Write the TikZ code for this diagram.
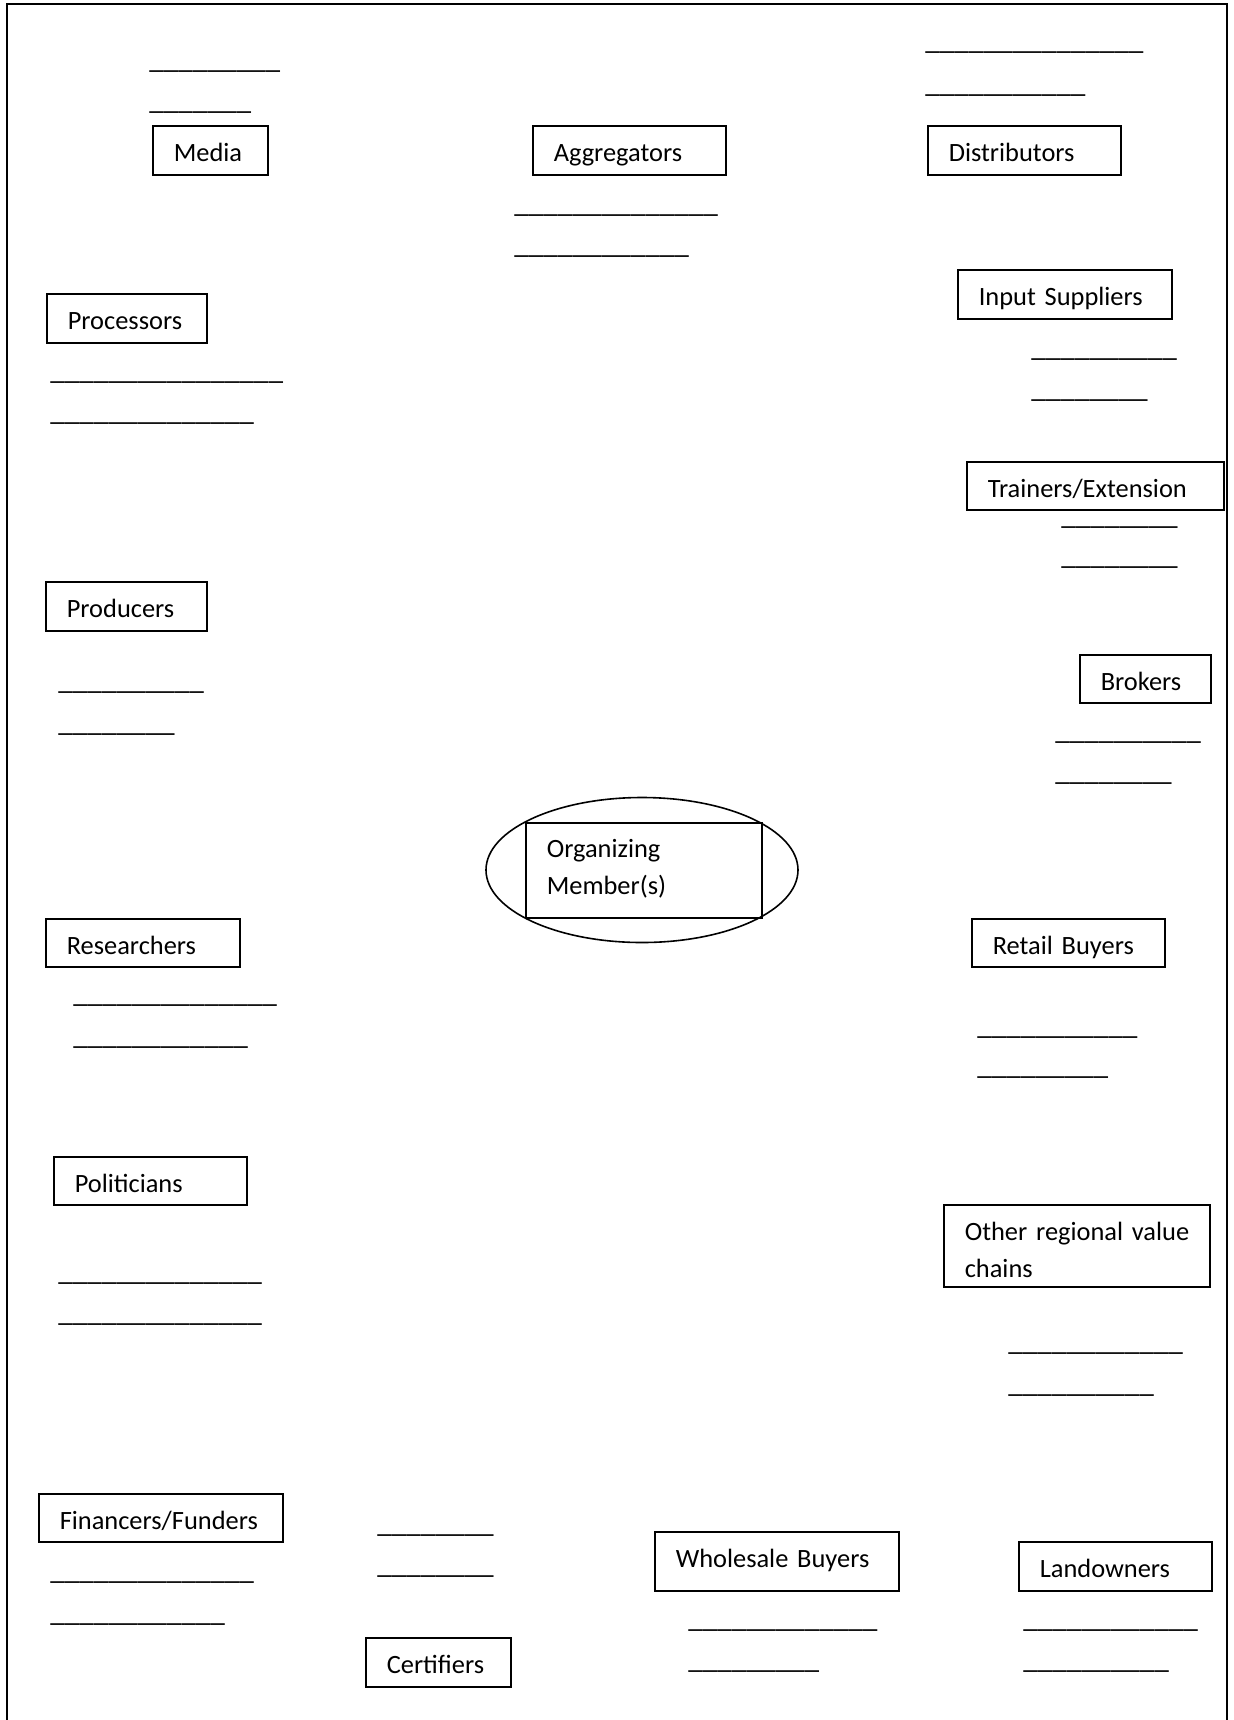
\documentclass[tikz,border=0pt]{standalone}
\usepackage{fontspec}
\setmainfont{Carlito}
\usepackage{tikz}
\usetikzlibrary{shapes.geometric}

% a row of underscores to write on
\newcommand{\blank}[1]{\foreach \k in {1,...,#1}{\_}}

\tikzset{
  actor/.style={draw, line width=0.8pt, rectangle, anchor=north west,
    inner xsep=10.5pt, inner ysep=0pt, align=left,
    text height=14.5pt, text depth=3pt},
  blank/.style={anchor=base west, inner sep=0pt, font=\fontsize{14.6}{16}\selectfont}
}

\begin{document}
\begin{tikzpicture}[x=0.5pt, y=-0.5pt, every node/.style={font=\fontsize{13.2}{18.5}\selectfont}]
  \useasboundingbox (0,0) rectangle (1233,1720);
  \draw[line width=1pt] (7,1720) -- (7,4) -- (1227,4) -- (1227,1720);

  % centre
  \node[draw, line width=0.8pt, ellipse, minimum width=156pt, minimum height=72.5pt, inner sep=0pt] (ring) at (642,870) {};
  \node[actor, text width=97pt, minimum height=47.5pt, text depth=27pt] (org) at (525,822) {Organizing\\Member(s)};

  % top row
  \node[actor, text width=36.5pt, minimum height=24.5pt] (media) at (152,125) {Media};
  \node[actor, text width=75.5pt, minimum height=24.5pt] (aggr) at (532,125) {Aggregators};
  \node[actor, text width=75.5pt, minimum height=24.5pt] (distr) at (927,125) {Distributors};

  % left side
  \node[actor, text width=59pt, minimum height=24.5pt] (proc) at (46,293) {Processors};
  \node[actor, text width=59.5pt, minimum height=24.5pt] (prod) at (45,581) {Producers};
  \node[actor, text width=76pt, minimum height=24pt] (res) at (45,918) {Researchers};
  \node[actor, text width=75.5pt, minimum height=24pt] (pol) at (53,1156) {Politicians};
  \node[actor, text width=101pt, minimum height=24pt] (fin) at (38,1493) {Financers/Funders};

  % right side
  \node[actor, text width=86pt, minimum height=24.5pt] (input) at (957,269) {Input Suppliers};
  \node[actor, text width=107.5pt, minimum height=24pt] (train) at (966,461) {Trainers/Extension};
  \node[actor, text width=44.5pt, minimum height=24pt] (brok) at (1079,654) {Brokers};
  \node[actor, text width=75.5pt, minimum height=24pt] (retail) at (971,918) {Retail Buyers};
  \node[actor, text width=112pt, minimum height=41pt, text depth=19.5pt] (other) at (943,1204) {\mbox{Other regional value}\\chains};

  % bottom row
  \node[actor, text width=51.5pt, minimum height=24.5pt] (cert) at (365,1637) {Certifiers};
  \node[actor, text width=101pt, minimum height=29.5pt, text depth=8pt] (whole) at (654,1531) {Wholesale Buyers};
  \node[actor, text width=75.5pt, minimum height=24.5pt] (land) at (1018,1541) {Landowners};

  % blanks
  \foreach \nm/\x/\y/\n in {mediaa/149/68/9, mediab/149/109/7,
      aggra/514/212/14, aggrb/514/253/12, distra/925/49/15, distrb/925/92/11,
      inputa/1031/356/10, inputb/1031/397/8, proca/50/379/16, procb/50/420/14,
      traina/1061/524/8, trainb/1061/564/8, proda/58/689/10, prodb/58/731/8,
      broka/1055/739/10, brokb/1055/780/8, resa/73/1002/14, resb/73/1044/12,
      retaila/977/1034/11, retailb/977/1074/9, pola/58/1280/14, polb/58/1321/14,
      othera/1008/1350/12, otherb/1008/1392/10, fina/50/1579/14, finb/50/1621/12,
      certa/377/1532/8, certb/377/1573/8, wholea/688/1627/13, wholeb/688/1668/9,
      landa/1023/1627/12, landb/1023/1668/10}
    \node[blank] (\nm) at (\x,\y) {\blank{\n}};
\end{tikzpicture}
\end{document}
